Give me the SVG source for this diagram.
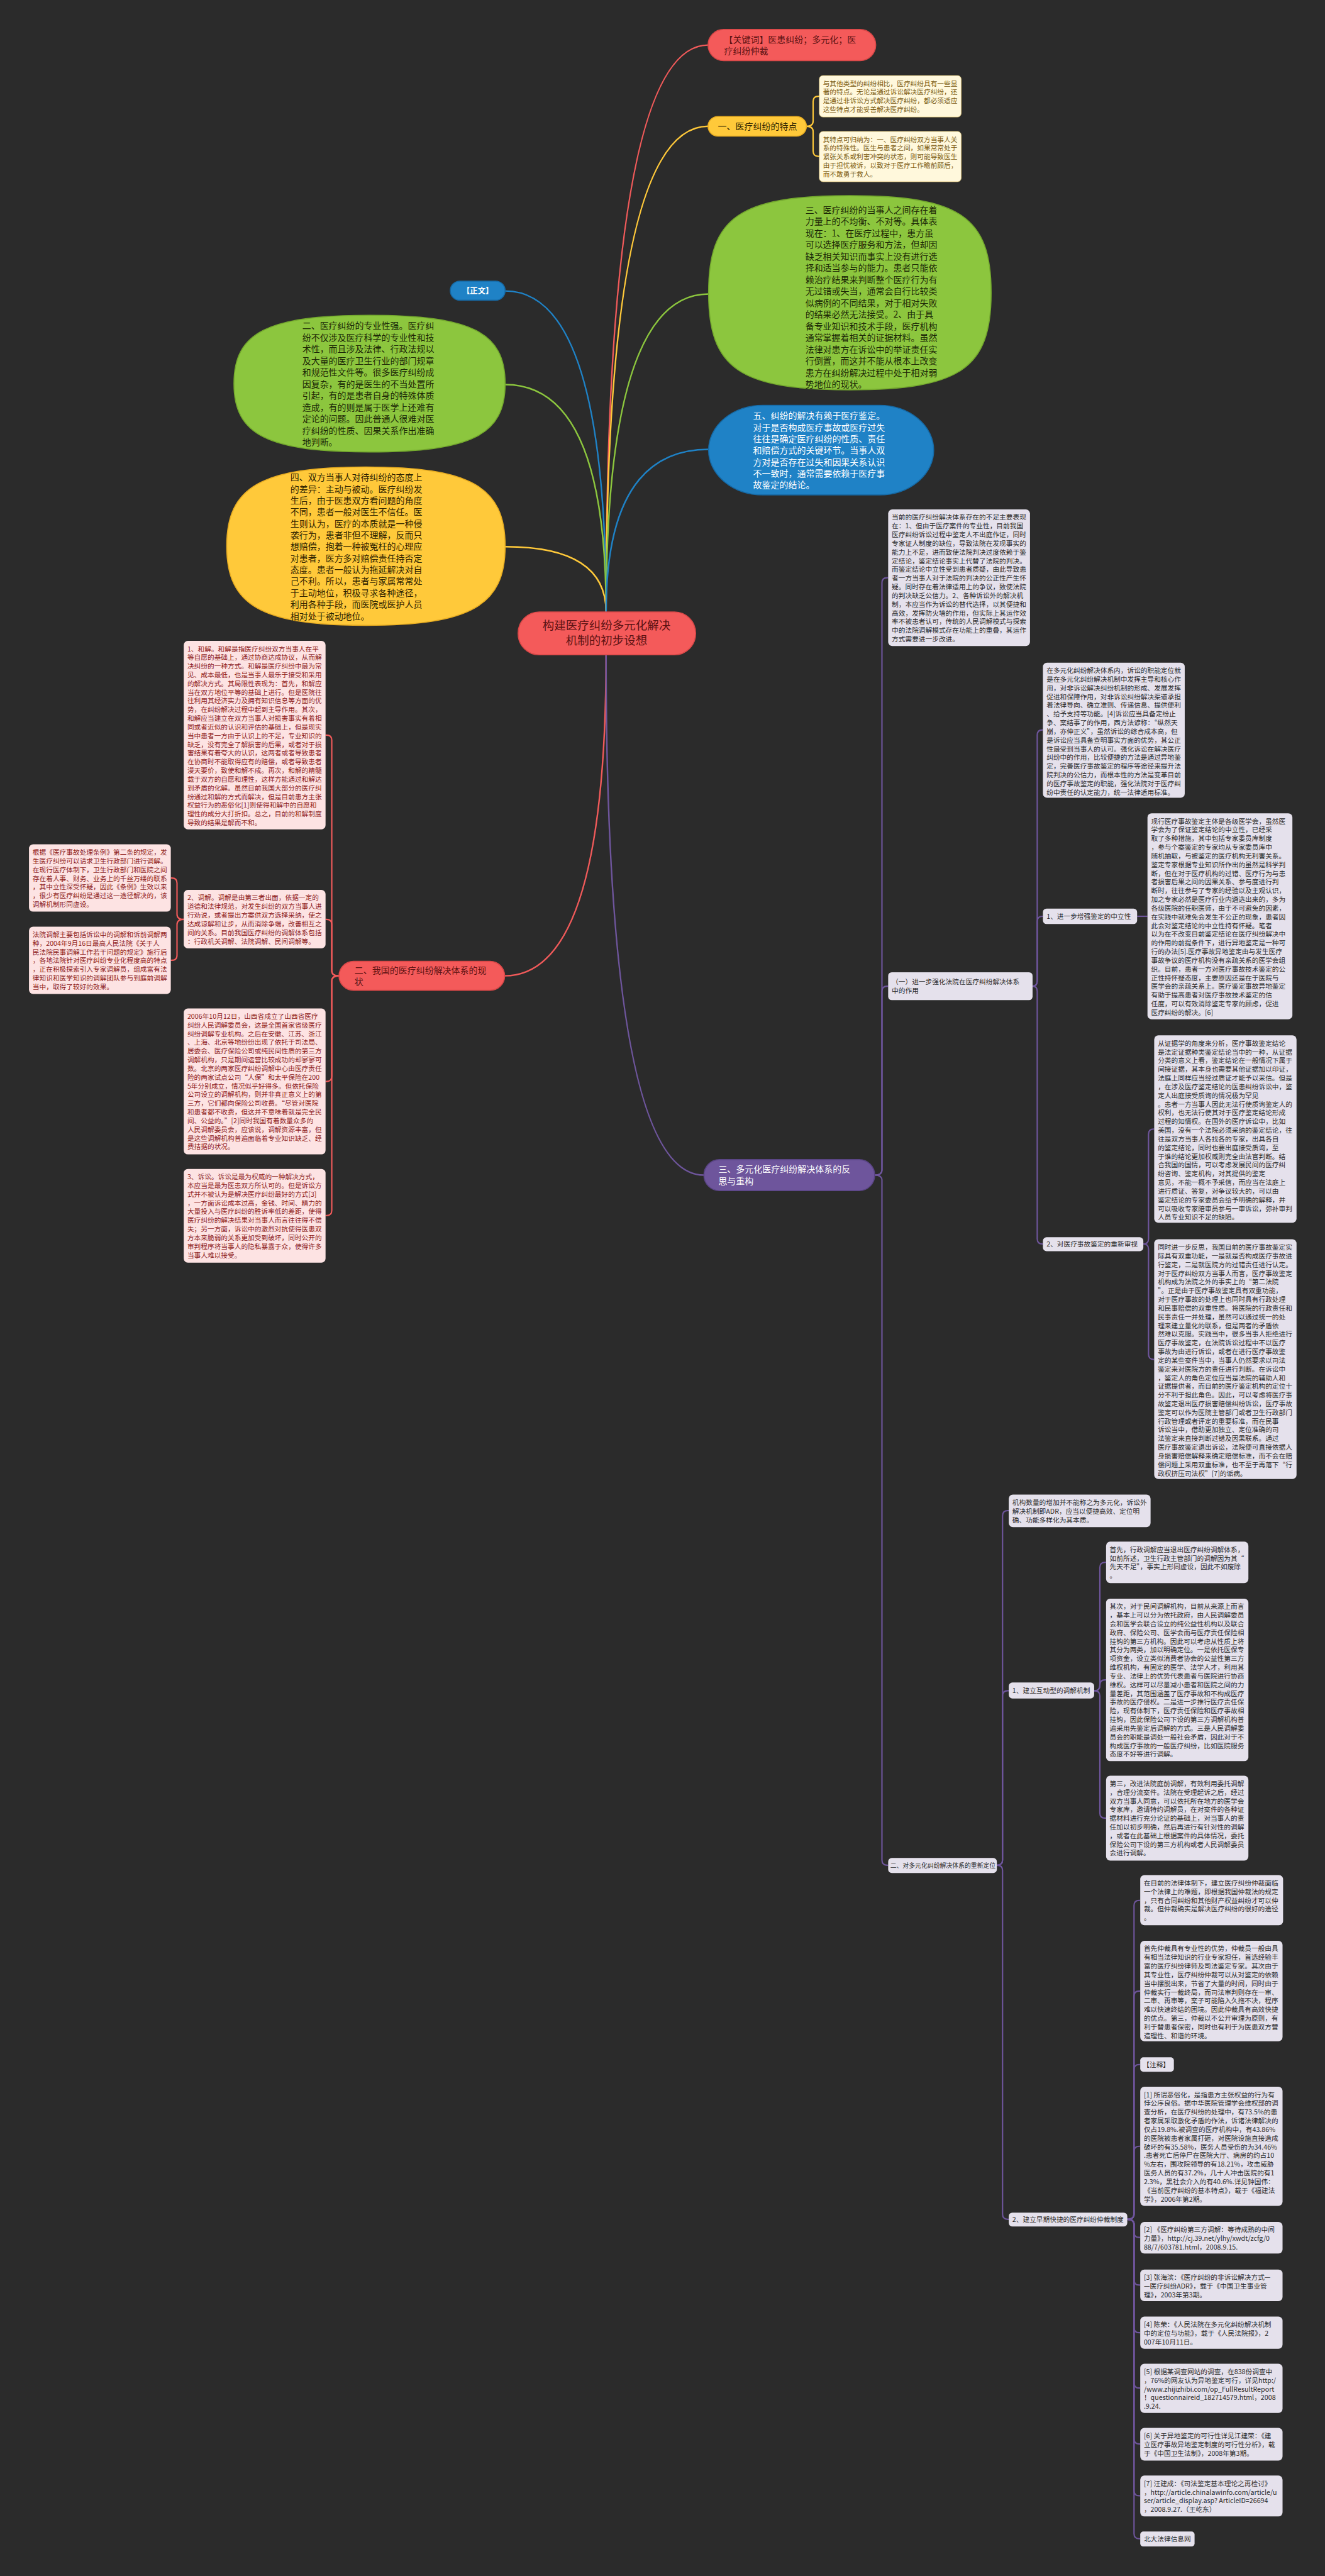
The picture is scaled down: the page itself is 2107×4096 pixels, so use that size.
<svg xmlns="http://www.w3.org/2000/svg" width="2107" height="4096" viewBox="0 0 2107 4096">
<style>
text{font-family:'Noto Sans CJK SC','Noto Sans',sans-serif}
.s13{font-size:13px}
.s12{font-size:12px}
.s17{font-size:17px}
.pk{fill:#fde3e3}
.pkt{fill:#8e1b1b}
.gy{fill:#e5e1ec}
.gyt{fill:#2b2b2b}
.cr{fill:#fff8dc;stroke:#f3d98a;stroke-width:1}
.crt{fill:#7b5a0f}
.ln{fill:none;stroke-width:3;stroke-linecap:round}
.br{fill:none;stroke-width:2.6;stroke-linejoin:round}
.cR{stroke:#f05a5a}.cY{stroke:#ffc93a}.cG{stroke:#8cc63e}.cB{stroke:#1f82c6}.cP{stroke:#6e559c}
</style>
<rect x="0" y="0" width="2107" height="4096" fill="#2b2b2b"/>
<g transform="scale(0.82305 0.82315)">
<g id="connectors">
<path class="ln cR" d="M1171,1182 Q1171,87 1368,87"/>
<path class="ln cY" d="M1171,1182 Q1171,244 1368,244"/>
<path class="ln cG" d="M1171,1182 Q1171,568 1369,568"/>
<path class="ln cB" d="M1171,1182 Q1171,562 976,562"/>
<path class="ln cG" d="M1171,1182 Q1171,743 976,743"/>
<path class="ln cY" d="M1171,1182 Q1171,1056 976,1056"/>
<path class="ln cB" d="M1171,1182 Q1171,868 1369,868"/>
<path class="ln cR" d="M1171,1265 Q1171,1885 975,1885"/>
<path class="ln cP" d="M1171,1265 Q1171,2270 1360,2270"/>
<path class="br cY" d="M1558,244 Q1571,244 1571,234 V196 Q1571,186 1581,186 H1583"/>
<path class="br cY" d="M1558,244 Q1571,244 1571,254 V292 Q1571,302 1581,302 H1583"/>
<path class="br cR" d="M655,1885 Q641,1885 641,1875 V1430 Q641,1420 631,1420 H629"/>
<path class="br cR" d="M655,1885 Q641,1885 641,1875 V1786 Q641,1776 631,1776 H629"/>
<path class="br cR" d="M655,1885 Q641,1885 641,1895 V2079 Q641,2089 631,2089 H629"/>
<path class="br cR" d="M655,1885 Q641,1885 641,1895 V2338 Q641,2348 631,2348 H629"/>
<path class="br cR" d="M355,1776 Q342,1776 342,1766 V1706 Q342,1696 332,1696 H330"/>
<path class="br cR" d="M355,1776 Q342,1776 342,1786 V1845 Q342,1855 332,1855 H330"/>
<path class="br cP" d="M1690,2270 Q1704,2270 1704,2260 V1126 Q1704,1116 1714,1116 H1716"/>
<path class="br cP" d="M1690,2270 Q1704,2270 1704,2260 V1915 Q1704,1905 1714,1905 H1716"/>
<path class="br cP" d="M1690,2270 Q1704,2270 1704,2280 V3593 Q1704,3603 1714,3603 H1716"/>
<path class="br cP" d="M1995,1905 Q2004,1905 2004,1895 V1420 Q2004,1410 2014,1410 H2015"/>
<path class="br cP" d="M1995,1905 Q2004,1905 2004,1895 V1780 Q2004,1770 2014,1770 H2015"/>
<path class="br cP" d="M1995,1905 Q2004,1905 2004,1915 V2393 Q2004,2403 2014,2403 H2015"/>
<path class="br cP" d="M2197,1770 H2217"/>
<path class="br cP" d="M2209,2403 Q2219,2403 2219,2393 V2191 Q2219,2181 2229,2181 H2230"/>
<path class="br cP" d="M2209,2403 Q2219,2403 2219,2413 V2616 Q2219,2626 2229,2626 H2230"/>
<path class="br cP" d="M1926,3603 Q1937,3603 1937,3593 V2928 Q1937,2918 1947,2918 H1949"/>
<path class="br cP" d="M1926,3603 Q1937,3603 1937,3593 V3276 Q1937,3266 1947,3266 H1949"/>
<path class="br cP" d="M1926,3603 Q1937,3603 1937,3613 V4277 Q1937,4287 1947,4287 H1949"/>
<path class="br cP" d="M2114,3266 Q2125,3266 2125,3256 V3028 Q2125,3018 2135,3018 H2137"/>
<path class="br cP" d="M2114,3266 Q2125,3266 2125,3256 V3255 Q2125,3245 2135,3245 H2137"/>
<path class="br cP" d="M2114,3266 Q2125,3266 2125,3276 V3502 Q2125,3512 2135,3512 H2137"/>
<path class="br cP" d="M2178,4287 Q2191,4287 2191,4277 V3681 Q2191,3671 2201,3671 H2203"/>
<path class="br cP" d="M2178,4287 Q2191,4287 2191,4277 V3856 Q2191,3846 2201,3846 H2203"/>
<path class="br cP" d="M2178,4287 Q2191,4287 2191,4277 V3998 Q2191,3988 2201,3988 H2203"/>
<path class="br cP" d="M2178,4287 Q2191,4287 2191,4277 V4156 Q2191,4146 2201,4146 H2203"/>
<path class="br cP" d="M2178,4287 Q2191,4287 2191,4297 V4312 Q2191,4322 2201,4322 H2203"/>
<path class="br cP" d="M2178,4287 Q2191,4287 2191,4297 V4404 Q2191,4414 2201,4414 H2203"/>
<path class="br cP" d="M2178,4287 Q2191,4287 2191,4297 V4496 Q2191,4506 2201,4506 H2203"/>
<path class="br cP" d="M2178,4287 Q2191,4287 2191,4297 V4603 Q2191,4613 2201,4613 H2203"/>
<path class="br cP" d="M2178,4287 Q2191,4287 2191,4297 V4711 Q2191,4721 2201,4721 H2203"/>
<path class="br cP" d="M2178,4287 Q2191,4287 2191,4297 V4811 Q2191,4821 2201,4821 H2203"/>
<path class="br cP" d="M2178,4287 Q2191,4287 2191,4297 V4894 Q2191,4904 2201,4904 H2203"/>
</g>

<g id="central">
<rect x="1001" y="1182" width="343" height="83" rx="41" fill="#f45a5a" stroke="#d94848" stroke-width="2"/>
<text x="1172" y="1216" font-size="22.5" fill="#5c1212" text-anchor="middle">构建医疗纠纷多元化解决</text>
<text x="1172" y="1245" font-size="22.5" fill="#5c1212" text-anchor="middle">机制的初步设想</text>
</g>

<g id="keywords">
<rect x="1368" y="57" width="324" height="60" rx="30" fill="#f45a5a" stroke="#d94848" stroke-width="2"/>
<text class="s17" fill="#5c1212"><tspan x="1399" y="83">【关键词】医患纠纷；多元化；医</tspan><tspan x="1399" y="104">疗纠纷仲裁</tspan></text>
</g>

<g id="n1">
<rect x="1368" y="225" width="190" height="38" rx="19" fill="#ffc93a" stroke="#e8ad22" stroke-width="2"/>
<text class="s17" x="1387" y="250" fill="#2e2300">一、医疗纠纷的特点</text>
</g>
<g id="n1a">
<rect class="cr" x="1583" y="146" width="274" height="80" rx="7"/>
<text class="s13 crt"><tspan x="1590" y="166">与其他类型的纠纷相比，医疗纠纷具有一些显</tspan><tspan x="1590" dy="16.7">著的特点。无论是通过诉讼解决医疗纠纷，还</tspan><tspan x="1590" dy="16.7">是通过非诉讼方式解决医疗纠纷，都必须适应</tspan><tspan x="1590" dy="16.7">这些特点才能妥善解决医疗纠纷。</tspan></text>
</g>
<g id="n1b">
<rect class="cr" x="1583" y="254" width="274" height="97" rx="7"/>
<text class="s13 crt"><tspan x="1590" y="274">其特点可归纳为：一、医疗纠纷双方当事人关</tspan><tspan x="1590" dy="16.7">系的特殊性。医生与患者之间，如果常常处于</tspan><tspan x="1590" dy="16.7">紧张关系或利害冲突的状态，则可能导致医生</tspan><tspan x="1590" dy="16.7">由于担忧被诉，以致对于医疗工作瞻前顾后，</tspan><tspan x="1590" dy="16.7">而不敢勇于救人。</tspan></text>
</g>

<g id="n3">
<path d="M1369,565.5 C1369,419.25 1429.1,378 1642,378 C1854.9,378 1915,419.25 1915,565.5 C1915,711.75 1854.9,753 1642,753 C1429.1,753 1369,711.75 1369,565.5 Z" fill="#8cc63e" stroke="#74a92e" stroke-width="2"/>
<text class="s17" fill="#1c2806"><tspan x="1556" y="411.5">三、医疗纠纷的当事人之间存在着</tspan><tspan x="1556" dy="22.47">力量上的不均衡、不对等。具体表</tspan><tspan x="1556" dy="22.47">现在：1、在医疗过程中，患方虽</tspan><tspan x="1556" dy="22.47">可以选择医疗服务和方法，但却因</tspan><tspan x="1556" dy="22.47">缺乏相关知识而事实上没有进行选</tspan><tspan x="1556" dy="22.47">择和适当参与的能力。患者只能依</tspan><tspan x="1556" dy="22.47">赖治疗结果来判断整个医疗行为有</tspan><tspan x="1556" dy="22.47">无过错或失当，通常会自行比较类</tspan><tspan x="1556" dy="22.47">似病例的不同结果，对于相对失败</tspan><tspan x="1556" dy="22.47">的结果必然无法接受。2、由于具</tspan><tspan x="1556" dy="22.47">备专业知识和技术手段，医疗机构</tspan><tspan x="1556" dy="22.47">通常掌握着相关的证据材料。虽然</tspan><tspan x="1556" dy="22.47">法律对患方在诉讼中的举证责任实</tspan><tspan x="1556" dy="22.47">行倒置，而这并不能从根本上改变</tspan><tspan x="1556" dy="22.47">患方在纠纷解决过程中处于相对弱</tspan><tspan x="1556" dy="22.47">势地位的现状。</tspan></text>
</g>

<g id="n5">
<rect x="1369" y="783" width="435" height="173" rx="105" ry="86.5" fill="#1f82c6" stroke="#166aa6" stroke-width="2"/>
<text class="s17" fill="#ffffff"><tspan x="1455" y="809.5">五、纠纷的解决有赖于医疗鉴定。</tspan><tspan x="1455" dy="22.3">对于是否构成医疗事故或医疗过失</tspan><tspan x="1455" dy="22.3">往往是确定医疗纠纷的性质、责任</tspan><tspan x="1455" dy="22.3">和赔偿方式的关键环节。当事人双</tspan><tspan x="1455" dy="22.3">方对是否存在过失和因果关系认识</tspan><tspan x="1455" dy="22.3">不一致时，通常需要依赖于医疗事</tspan><tspan x="1455" dy="22.3">故鉴定的结论。</tspan></text>
</g>

<g id="zhengwen">
<rect x="870" y="543" width="106" height="37" rx="18.5" fill="#1f82c6" stroke="#166aa6" stroke-width="2"/>
<text x="923" y="567" font-size="15" font-weight="bold" fill="#ffffff" text-anchor="middle">【正文】</text>
</g>

<g id="n2">
<path d="M452,741 C452,642 517.5,609 714,609 C910.5,609 976,642 976,741 C976,840 910.5,873 714,873 C517.5,873 452,840 452,741 Z" fill="#8cc63e" stroke="#74a92e" stroke-width="2"/>
<text class="s17" fill="#1c2806"><tspan x="584" y="635.5">二、医疗纠纷的专业性强。医疗纠</tspan><tspan x="584" dy="22.5">纷不仅涉及医疗科学的专业性和技</tspan><tspan x="584" dy="22.5">术性，而且涉及法律、行政法规以</tspan><tspan x="584" dy="22.5">及大量的医疗卫生行业的部门规章</tspan><tspan x="584" dy="22.5">和规范性文件等。很多医疗纠纷成</tspan><tspan x="584" dy="22.5">因复杂，有的是医生的不当处置所</tspan><tspan x="584" dy="22.5">引起，有的是患者自身的特殊体质</tspan><tspan x="584" dy="22.5">造成，有的则是属于医学上还难有</tspan><tspan x="584" dy="22.5">定论的问题。因此普通人很难对医</tspan><tspan x="584" dy="22.5">疗纠纷的性质、因果关系作出准确</tspan><tspan x="584" dy="22.5">地判断。</tspan></text>
</g>

<g id="n4">
<path d="M438,1055 C438,940.25 505.25,902 707,902 C908.75,902 976,940.25 976,1055 C976,1169.75 908.75,1208 707,1208 C505.25,1208 438,1169.75 438,1055 Z" fill="#ffc93a" stroke="#e8ad22" stroke-width="2"/>
<text class="s17" fill="#2e2300"><tspan x="561" y="928.5">四、双方当事人对待纠纷的态度上</tspan><tspan x="561" dy="22.3">的差异：主动与被动。医疗纠纷发</tspan><tspan x="561" dy="22.3">生后，由于医患双方看问题的角度</tspan><tspan x="561" dy="22.3">不同，患者一般对医生不信任。医</tspan><tspan x="561" dy="22.3">生则认为，医疗的本质就是一种侵</tspan><tspan x="561" dy="22.3">袭行为，患者非但不理解，反而只</tspan><tspan x="561" dy="22.3">想赔偿，抱着一种被冤枉的心理应</tspan><tspan x="561" dy="22.3">对患者，医方多对赔偿责任持否定</tspan><tspan x="561" dy="22.3">态度。患者一般认为拖延解决对自</tspan><tspan x="561" dy="22.3">己不利。所以，患者与家属常常处</tspan><tspan x="561" dy="22.3">于主动地位，积极寻求各种途径，</tspan><tspan x="561" dy="22.3">利用各种手段，而医院或医护人员</tspan><tspan x="561" dy="22.3">相对处于被动地位。</tspan></text>
</g>

<g id="s2">
<rect x="655" y="1857" width="320" height="56" rx="28" fill="#f45a5a" stroke="#d94848" stroke-width="2"/>
<text class="s17" fill="#5c1212"><tspan x="685" y="1880">二、我国的医疗纠纷解决体系的现</tspan><tspan x="685" y="1902">状</tspan></text>
</g>
<g id="s2a">
<rect class="pk" x="355" y="1238" width="274" height="364" rx="8"/>
<text class="s13 pkt"><tspan x="362" y="1258">1、和解。和解是指医疗纠纷双方当事人在平</tspan><tspan x="362" dy="16.8">等自愿的基础上，通过协商达成协议，从而解</tspan><tspan x="362" dy="16.8">决纠纷的一种方式。和解是医疗纠纷中最为常</tspan><tspan x="362" dy="16.8">见、成本最低，也是当事人最乐于接受和采用</tspan><tspan x="362" dy="16.8">的解决方式。其局限性表现为：首先，和解应</tspan><tspan x="362" dy="16.8">当在双方地位平等的基础上进行。但是医院往</tspan><tspan x="362" dy="16.8">往利用其经济实力及拥有知识信息等方面的优</tspan><tspan x="362" dy="16.8">势，在纠纷解决过程中起到主导作用。其次，</tspan><tspan x="362" dy="16.8">和解应当建立在双方当事人对损害事实有着相</tspan><tspan x="362" dy="16.8">同或者近似的认识和评估的基础上，但是现实</tspan><tspan x="362" dy="16.8">当中患者一方由于认识上的不足，专业知识的</tspan><tspan x="362" dy="16.8">缺乏，没有完全了解损害的后果，或者对于损</tspan><tspan x="362" dy="16.8">害结果有着夸大的认识，这两者或者导致患者</tspan><tspan x="362" dy="16.8">在协商时不能取得应有的赔偿，或者导致患者</tspan><tspan x="362" dy="16.8">漫天要价，致使和解不成。再次，和解的精髓</tspan><tspan x="362" dy="16.8">载于双方的自愿和理性，这样方能通过和解达</tspan><tspan x="362" dy="16.8">到矛盾的化解。虽然目前我国大部分的医疗纠</tspan><tspan x="362" dy="16.8">纷通过和解的方式而解决，但是目前患方主张</tspan><tspan x="362" dy="16.8">权益行为的恶俗化[1]则使得和解中的自愿和</tspan><tspan x="362" dy="16.8">理性的成分大打折扣。总之，目前的和解制度</tspan><tspan x="362" dy="16.8">导致的结果是解而不和。</tspan></text>
</g>
<g id="s2b">
<rect class="pk" x="355" y="1719" width="274" height="113" rx="8"/>
<text class="s13 pkt"><tspan x="362" y="1739">2、调解。调解是由第三者出面，依据一定的</tspan><tspan x="362" dy="16.8">道德和法律规范，对发生纠纷的双方当事人进</tspan><tspan x="362" dy="16.8">行劝说，或者提出方案供双方选择采纳，使之</tspan><tspan x="362" dy="16.8">达成谅解和让步，从而消除争端，改善相互之</tspan><tspan x="362" dy="16.8">间的关系。目前我国医疗纠纷的调解体系包括</tspan><tspan x="362" dy="16.8">：行政机关调解、法院调解、民间调解等。</tspan></text>
</g>
<g id="s2b1">
<rect class="pk" x="56" y="1631" width="274" height="130" rx="8"/>
<text class="s13 pkt"><tspan x="63" y="1651">根据《医疗事故处理条例》第二条的规定，发</tspan><tspan x="63" dy="16.8">生医疗纠纷可以请求卫生行政部门进行调解。</tspan><tspan x="63" dy="16.8">在现行医疗体制下，卫生行政部门和医院之间</tspan><tspan x="63" dy="16.8">存在着人事、财务、业务上的千丝万缕的联系</tspan><tspan x="63" dy="16.8">，其中立性深受怀疑，因此《条例》生效以来</tspan><tspan x="63" dy="16.8">，很少有医疗纠纷是通过这一途径解决的，该</tspan><tspan x="63" dy="16.8">调解机制形同虚设。</tspan></text>
</g>
<g id="s2b2">
<rect class="pk" x="56" y="1790" width="274" height="130" rx="8"/>
<text class="s13 pkt"><tspan x="63" y="1810">法院调解主要包括诉讼中的调解和诉前调解两</tspan><tspan x="63" dy="16.8">种，2004年9月16日最高人民法院《关于人</tspan><tspan x="63" dy="16.8">民法院民事调解工作若干问题的规定》施行后</tspan><tspan x="63" dy="16.8">，各地法院针对医疗纠纷专业化程度高的特点</tspan><tspan x="63" dy="16.8">，正在积极探索引入专家调解员，组成富有法</tspan><tspan x="63" dy="16.8">律知识和医学知识的调解团队参与到庭前调解</tspan><tspan x="63" dy="16.8">当中，取得了较好的效果。</tspan></text>
</g>
<g id="s2c">
<rect class="pk" x="355" y="1948" width="274" height="282" rx="8"/>
<text class="s13 pkt"><tspan x="362" y="1968">2006年10月12日，山西省成立了山西省医疗</tspan><tspan x="362" dy="16.8">纠纷人民调解委员会，这是全国首家省级医疗</tspan><tspan x="362" dy="16.8">纠纷调解专业机构。之后在安徽、江苏、浙江</tspan><tspan x="362" dy="16.8">、上海、北京等地纷纷出现了依托于司法局、</tspan><tspan x="362" dy="16.8">居委会、医疗保险公司或纯民间性质的第三方</tspan><tspan x="362" dy="16.8">调解机构，只是期间运营比较成功的却寥寥可</tspan><tspan x="362" dy="16.8">数。北京的两家医疗纠纷调解中心由医疗责任</tspan><tspan x="362" dy="16.8">险的两家试点公司“人保”和太平保险在200</tspan><tspan x="362" dy="16.8">5年分别成立，情况似乎好得多。但依托保险</tspan><tspan x="362" dy="16.8">公司设立的调解机构，则并非真正意义上的第</tspan><tspan x="362" dy="16.8">三方，它们都向保险公司收费。“尽管对医院</tspan><tspan x="362" dy="16.8">和患者都不收费，但这并不意味着就是完全民</tspan><tspan x="362" dy="16.8">间、公益的。”[2]同时我国有着数量众多的</tspan><tspan x="362" dy="16.8">人民调解委员会，应该说，调解资源丰富，但</tspan><tspan x="362" dy="16.8">是这些调解机构普遍面临着专业知识缺乏、经</tspan><tspan x="362" dy="16.8">费拮据的状况。</tspan></text>
</g>
<g id="s2d">
<rect class="pk" x="355" y="2258" width="274" height="181" rx="8"/>
<text class="s13 pkt"><tspan x="362" y="2278">3、诉讼。诉讼是最为权威的一种解决方式，</tspan><tspan x="362" dy="16.8">本应当是最为医患双方所认可的。但是诉讼方</tspan><tspan x="362" dy="16.8">式并不被认为是解决医疗纠纷最好的方式[3]</tspan><tspan x="362" dy="16.8">，一方面诉讼成本过高，金钱、时间、精力的</tspan><tspan x="362" dy="16.8">大量投入与医疗纠纷的胜诉率低的差距，使得</tspan><tspan x="362" dy="16.8">医疗纠纷的解决结果对当事人而言往往得不偿</tspan><tspan x="362" dy="16.8">失；另一方面，诉讼中的激烈对抗使得医患双</tspan><tspan x="362" dy="16.8">方本来脆弱的关系更加受到破坏，同时公开的</tspan><tspan x="362" dy="16.8">审判程序将当事人的隐私暴露于众，使得许多</tspan><tspan x="362" dy="16.8">当事人难以接受。</tspan></text>
</g>

<g id="s3">
<rect x="1360" y="2240" width="330" height="60" rx="30" fill="#6e559c" stroke="#5a4585" stroke-width="2"/>
<text class="s17" fill="#ffffff"><tspan x="1388" y="2265">三、多元化医疗纠纷解决体系的反</tspan><tspan x="1388" y="2287">思与重构</tspan></text>
</g>
<g id="s3a">
<rect class="gy" x="1716" y="984" width="274" height="264" rx="8"/>
<text class="s13 gyt"><tspan x="1723" y="1004">当前的医疗纠纷解决体系存在的不足主要表现</tspan><tspan x="1723" dy="16.8">在：1、但由于医疗案件的专业性，目前我国</tspan><tspan x="1723" dy="16.8">医疗纠纷诉讼过程中鉴定人不出庭作证，同时</tspan><tspan x="1723" dy="16.8">专家证人制度的缺位，导致法院在发现事实的</tspan><tspan x="1723" dy="16.8">能力上不足，进而致使法院判决过度依赖于鉴</tspan><tspan x="1723" dy="16.8">定结论，鉴定结论事实上代替了法院的判决。</tspan><tspan x="1723" dy="16.8">而鉴定结论中立性受到患者质疑，由此导致患</tspan><tspan x="1723" dy="16.8">者一方当事人对于法院的判决的公正性产生怀</tspan><tspan x="1723" dy="16.8">疑。同时存在着法律适用上的争议，致使法院</tspan><tspan x="1723" dy="16.8">的判决缺乏公信力。2、各种诉讼外的解决机</tspan><tspan x="1723" dy="16.8">制，本应当作为诉讼的替代选择，以其便捷和</tspan><tspan x="1723" dy="16.8">高效，发挥防火墙的作用，但实际上其运作效</tspan><tspan x="1723" dy="16.8">率不被患者认可，传统的人民调解模式与探索</tspan><tspan x="1723" dy="16.8">中的法院调解模式存在功能上的重叠，其运作</tspan><tspan x="1723" dy="16.8">方式需要进一步改进。</tspan></text>
</g>
<g id="s3b">
<rect class="gy" x="1716" y="1878" width="279" height="54" rx="7"/>
<text class="s13 gyt"><tspan x="1723" y="1901">（一）进一步强化法院在医疗纠纷解决体系</tspan><tspan x="1723" dy="16.8">中的作用</tspan></text>
</g>
<g id="s3b1">
<rect class="gy" x="2015" y="1280" width="274" height="261" rx="8"/>
<text class="s13 gyt"><tspan x="2022" y="1300">在多元化纠纷解决体系内，诉讼的职能定位就</tspan><tspan x="2022" dy="16.8">是在多元化纠纷解决机制中发挥主导和核心作</tspan><tspan x="2022" dy="16.8">用，对非诉讼解决纠纷机制的形成、发展发挥</tspan><tspan x="2022" dy="16.8">促进和保障作用，对非诉讼纠纷解决渠道承担</tspan><tspan x="2022" dy="16.8">着法律导向、确立准则、传递信息、提供便利</tspan><tspan x="2022" dy="16.8">、给予支持等功能。[4]诉讼应当具备定纷止</tspan><tspan x="2022" dy="16.8">争、案结事了的作用，西方法谚称：“纵然天</tspan><tspan x="2022" dy="16.8">崩，亦伸正义”，虽然诉讼的综合成本高，但</tspan><tspan x="2022" dy="16.8">是诉讼应当具备查明事实方面的优势，其公正</tspan><tspan x="2022" dy="16.8">性最受到当事人的认可。强化诉讼在解决医疗</tspan><tspan x="2022" dy="16.8">纠纷中的作用，比较便捷的方法是通过异地鉴</tspan><tspan x="2022" dy="16.8">定，完善医疗事故鉴定的程序等途径来提升法</tspan><tspan x="2022" dy="16.8">院判决的公信力，而根本性的方法是变革目前</tspan><tspan x="2022" dy="16.8">的医疗事故鉴定的职能，强化法院对于医疗纠</tspan><tspan x="2022" dy="16.8">纷中责任的认定能力，统一法律适用标准。</tspan></text>
</g>
<g id="s3b2">
<rect class="gy" x="2015" y="1755" width="182" height="30" rx="7"/>
<text class="s13 gyt" x="2022" y="1775">1、进一步增强鉴定的中立性</text>
</g>
<g id="s3b2a">
<rect class="gy" x="2217" y="1571" width="280" height="398" rx="8"/>
<text class="s13 gyt"><tspan x="2224" y="1591">现行医疗事故鉴定主体是各级医学会，虽然医</tspan><tspan x="2224" dy="16.8">学会为了保证鉴定结论的中立性，已经采</tspan><tspan x="2224" dy="16.8">取了多种措施，其中包括专家委员库制度</tspan><tspan x="2224" dy="16.8">，参与个案鉴定的专家均从专家委员库中</tspan><tspan x="2224" dy="16.8">随机抽取，与被鉴定的医疗机构无利害关系。</tspan><tspan x="2224" dy="16.8">鉴定专家根据专业知识所作出的虽然是科学判</tspan><tspan x="2224" dy="16.8">断，但在对于医疗机构的过错、医疗行为与患</tspan><tspan x="2224" dy="16.8">者损害后果之间的因果关系、参与度进行判</tspan><tspan x="2224" dy="16.8">断时，往往参与了专家的经验以及主观认识，</tspan><tspan x="2224" dy="16.8">加之专家必然是医疗行业内遴选出来的，多为</tspan><tspan x="2224" dy="16.8">各级医院的任职医师，由于不可避免的因素，</tspan><tspan x="2224" dy="16.8">在实践中就难免会发生不公正的现象，患者因</tspan><tspan x="2224" dy="16.8">此会对鉴定结论的中立性持有怀疑。笔者</tspan><tspan x="2224" dy="16.8">以为在不改变目前鉴定结论在医疗纠纷解决中</tspan><tspan x="2224" dy="16.8">的作用的前提条件下，进行异地鉴定是一种可</tspan><tspan x="2224" dy="16.8">行的办法[5].医疗事故异地鉴定由与发生医疗</tspan><tspan x="2224" dy="16.8">事故争议的医疗机构没有亲疏关系的医学会组</tspan><tspan x="2224" dy="16.8">织。目前，患者一方对医疗事故技术鉴定的公</tspan><tspan x="2224" dy="16.8">正性持怀疑态度，主要原因还是在于医院与</tspan><tspan x="2224" dy="16.8">医学会的亲疏关系上。医疗鉴定事故异地鉴定</tspan><tspan x="2224" dy="16.8">有助于提高患者对医疗事故技术鉴定的信</tspan><tspan x="2224" dy="16.8">任度，可以有效消除鉴定专家的顾虑，促进</tspan><tspan x="2224" dy="16.8">医疗纠纷的解决。[6]</tspan></text>
</g>
<g id="s3b3">
<rect class="gy" x="2015" y="2390" width="194" height="27" rx="7"/>
<text class="s13 gyt" x="2022" y="2408">2、对医疗事故鉴定的重新审视</text>
</g>
<g id="s3b3a">
<rect class="gy" x="2230" y="2000" width="275" height="362" rx="8"/>
<text class="s13 gyt"><tspan x="2237" y="2020">从证据学的角度来分析，医疗事故鉴定结论</tspan><tspan x="2237" dy="16.8">是法定证据种类鉴定结论当中的一种，从证据</tspan><tspan x="2237" dy="16.8">分类的意义上看，鉴定结论在一般情况下属于</tspan><tspan x="2237" dy="16.8">间接证据，其本身也需要其他证据加以印证，</tspan><tspan x="2237" dy="16.8">法庭上同样应当经过质证才能予以采信。但是</tspan><tspan x="2237" dy="16.8">，在涉及医疗鉴定结论的医患纠纷诉讼中，鉴</tspan><tspan x="2237" dy="16.8">定人出庭接受质询的情况极为罕见</tspan><tspan x="2237" dy="16.8">。患者一方当事人因此无法行使质询鉴定人的</tspan><tspan x="2237" dy="16.8">权利，也无法行使其对于医疗鉴定结论形成</tspan><tspan x="2237" dy="16.8">过程的知情权。在国外的医疗诉讼中，比如</tspan><tspan x="2237" dy="16.8">美国，没有一个法院必须采纳的鉴定结论，往</tspan><tspan x="2237" dy="16.8">往是双方当事人各找各的专家，出具各自</tspan><tspan x="2237" dy="16.8">的鉴定结论，同时也要出庭接受质询，至</tspan><tspan x="2237" dy="16.8">于谁的结论更加权威则完全由法官判断。结</tspan><tspan x="2237" dy="16.8">合我国的国情，可以考虑发展民间的医疗纠</tspan><tspan x="2237" dy="16.8">纷咨询、鉴定机构，对其提供的鉴定</tspan><tspan x="2237" dy="16.8">意见，不能一概不予采信，而应当在法庭上</tspan><tspan x="2237" dy="16.8">进行质证、答复，对争议较大的，可以由</tspan><tspan x="2237" dy="16.8">鉴定结论的专家委员会给予明确的解释，并</tspan><tspan x="2237" dy="16.8">可以吸收专家陪审员参与一审诉讼，弥补审判</tspan><tspan x="2237" dy="16.8">人员专业知识不足的缺陷。</tspan></text>
</g>
<g id="s3b3b">
<rect class="gy" x="2230" y="2394" width="275" height="463" rx="8"/>
<text class="s13 gyt"><tspan x="2237" y="2414">同时进一步反思，我国目前的医疗事故鉴定实</tspan><tspan x="2237" dy="16.8">际具有双重功能，一是就是否构成医疗事故进</tspan><tspan x="2237" dy="16.8">行鉴定，二是就医院方的过错责任进行认定。</tspan><tspan x="2237" dy="16.8">对于医疗纠纷双方当事人而言，医疗事故鉴定</tspan><tspan x="2237" dy="16.8">机构成为法院之外的事实上的“第二法院</tspan><tspan x="2237" dy="16.8">”。正是由于医疗事故鉴定具有双重功能，</tspan><tspan x="2237" dy="16.8">对于医疗事故的处理上也同时具有行政处理</tspan><tspan x="2237" dy="16.8">和民事赔偿的双重性质。将医院的行政责任和</tspan><tspan x="2237" dy="16.8">民事责任一并处理，虽然可以通过统一的处</tspan><tspan x="2237" dy="16.8">理来建立量化的联系，但是两者的矛盾依</tspan><tspan x="2237" dy="16.8">然难以克服。实践当中，很多当事人拒绝进行</tspan><tspan x="2237" dy="16.8">医疗事故鉴定，在法院诉讼过程中不以医疗</tspan><tspan x="2237" dy="16.8">事故为由进行诉讼，或者在进行医疗事故鉴</tspan><tspan x="2237" dy="16.8">定的某些案件当中，当事人仍然要求以司法</tspan><tspan x="2237" dy="16.8">鉴定来对医院方的责任进行判断。在诉讼中</tspan><tspan x="2237" dy="16.8">，鉴定人的角色定位应当是法院的辅助人和</tspan><tspan x="2237" dy="16.8">证据提供者，而目前的医疗鉴定机构的定位十</tspan><tspan x="2237" dy="16.8">分不利于担此角色。因此，可以考虑将医疗事</tspan><tspan x="2237" dy="16.8">故鉴定退出医疗损害赔偿纠纷诉讼，医疗事故</tspan><tspan x="2237" dy="16.8">鉴定可以作为医院主管部门或者卫生行政部门</tspan><tspan x="2237" dy="16.8">行政管理或者评定的重要标准，而在民事</tspan><tspan x="2237" dy="16.8">诉讼当中，借助更加独立、定位准确的司</tspan><tspan x="2237" dy="16.8">法鉴定来直接判断过错及因果联系。通过</tspan><tspan x="2237" dy="16.8">医疗事故鉴定退出诉讼，法院便可直接依据人</tspan><tspan x="2237" dy="16.8">身损害赔偿解释来确定赔偿标准，而不会在赔</tspan><tspan x="2237" dy="16.8">偿问题上采用双重标准，也不至于再落下“行</tspan><tspan x="2237" dy="16.8">政权挤压司法权”[7]的诟病。</tspan></text>
</g>
<g id="s3c">
<rect class="gy" x="1716" y="3589" width="210" height="29" rx="7"/>
<text class="s12 gyt" x="1720" y="3608">二、对多元化纠纷解决体系的重新定位</text>
</g>
<g id="s3c1">
<rect class="gy" x="1949" y="2887" width="274" height="63" rx="8"/>
<text class="s13 gyt"><tspan x="1956" y="2907">机构数量的增加并不能称之为多元化，诉讼外</tspan><tspan x="1956" dy="16.8">解决机制即ADR，应当以便捷高效、定位明</tspan><tspan x="1956" dy="16.8">确、功能多样化为其本质。</tspan></text>
</g>
<g id="s3c2">
<rect class="gy" x="1949" y="3250" width="165" height="31" rx="7"/>
<text class="s13 gyt" x="1956" y="3270">1、建立互动型的调解机制</text>
</g>
<g id="s3c2a">
<rect class="gy" x="2137" y="2978" width="275" height="80" rx="8"/>
<text class="s13 gyt"><tspan x="2144" y="2998">首先，行政调解应当退出医疗纠纷调解体系，</tspan><tspan x="2144" dy="16.8">如前所述，卫生行政主管部门的调解因为其“</tspan><tspan x="2144" dy="16.8">先天不足”，事实上形同虚设，因此不如废除</tspan><tspan x="2144" dy="16.8">。</tspan></text>
</g>
<g id="s3c2b">
<rect class="gy" x="2137" y="3088" width="275" height="314" rx="8"/>
<text class="s13 gyt"><tspan x="2144" y="3108">其次，对于民间调解机构，目前从来源上而言</tspan><tspan x="2144" dy="16.8">，基本上可以分为依托政府，由人民调解委员</tspan><tspan x="2144" dy="16.8">会和医学会联合设立的纯公益性机构以及联合</tspan><tspan x="2144" dy="16.8">政府、保险公司、医学会而与医疗责任保险相</tspan><tspan x="2144" dy="16.8">挂钩的第三方机构。因此可以考虑从性质上将</tspan><tspan x="2144" dy="16.8">其分为两类，加以明确定位。一是依托医保专</tspan><tspan x="2144" dy="16.8">项资金，设立类似消费者协会的公益性第三方</tspan><tspan x="2144" dy="16.8">维权机构，有固定的医学、法学人才，利用其</tspan><tspan x="2144" dy="16.8">专业、法律上的优势代表患者与医院进行协商</tspan><tspan x="2144" dy="16.8">维权。这样可以尽量减小患者和医院之间的力</tspan><tspan x="2144" dy="16.8">量差距，其范围涵盖了医疗事故和不构成医疗</tspan><tspan x="2144" dy="16.8">事故的医疗侵权。二是进一步推行医疗责任保</tspan><tspan x="2144" dy="16.8">险，现有体制下，医疗责任保险和医疗事故相</tspan><tspan x="2144" dy="16.8">挂钩，因此保险公司下设的第三方调解机构普</tspan><tspan x="2144" dy="16.8">遍采用先鉴定后调解的方式。三是人民调解委</tspan><tspan x="2144" dy="16.8">员会的职能是调处一般社会矛盾，因此对于不</tspan><tspan x="2144" dy="16.8">构成医疗事故的一般医疗纠纷，比如医院服务</tspan><tspan x="2144" dy="16.8">态度不好等进行调解。</tspan></text>
</g>
<g id="s3c2c">
<rect class="gy" x="2137" y="3430" width="275" height="164" rx="8"/>
<text class="s13 gyt"><tspan x="2144" y="3450">第三，改进法院庭前调解，有效利用委托调解</tspan><tspan x="2144" dy="16.8">，合理分流案件。法院在受理起诉之后，经过</tspan><tspan x="2144" dy="16.8">双方当事人同意，可以依托所在地方的医学会</tspan><tspan x="2144" dy="16.8">专家库，邀请特约调解员，在对案件的各种证</tspan><tspan x="2144" dy="16.8">据材料进行充分论证的基础上，对当事人的责</tspan><tspan x="2144" dy="16.8">任加以初步明确，然后再进行有针对性的调解</tspan><tspan x="2144" dy="16.8">，或者在此基础上根据案件的具体情况，委托</tspan><tspan x="2144" dy="16.8">保险公司下设的第三方机构或者人民调解委员</tspan><tspan x="2144" dy="16.8">会进行调解。</tspan></text>
</g>
<g id="s3c3">
<rect class="gy" x="1949" y="4274" width="229" height="27" rx="7"/>
<text class="s13 gyt" x="1956" y="4292">2、建立早期快捷的医疗纠纷仲裁制度</text>
</g>
<g id="s3c3a">
<rect class="gy" x="2203" y="3622" width="276" height="97" rx="8"/>
<text class="s13 gyt"><tspan x="2210" y="3642">在目前的法律体制下，建立医疗纠纷仲裁面临</tspan><tspan x="2210" dy="16.8">一个法律上的难题，即根据我国仲裁法的规定</tspan><tspan x="2210" dy="16.8">，只有合同纠纷和其他财产权益纠纷才可以仲</tspan><tspan x="2210" dy="16.8">裁。但仲裁确实是解决医疗纠纷的很好的途径</tspan><tspan x="2210" dy="16.8">。</tspan></text>
</g>
<g id="s3c3b">
<rect class="gy" x="2203" y="3749" width="275" height="194" rx="8"/>
<text class="s13 gyt"><tspan x="2210" y="3769">首先仲裁具有专业性的优势，仲裁员一般由具</tspan><tspan x="2210" dy="16.8">有相当法律知识的行业专家担任，首选经验丰</tspan><tspan x="2210" dy="16.8">富的医疗纠纷律师及司法鉴定专家。其次由于</tspan><tspan x="2210" dy="16.8">其专业性，医疗纠纷仲裁可以从对鉴定的依赖</tspan><tspan x="2210" dy="16.8">当中摆脱出来，节省了大量的时间，同时由于</tspan><tspan x="2210" dy="16.8">仲裁实行一裁终局，而司法审判则存在一审、</tspan><tspan x="2210" dy="16.8">二审、再审等，案子可能陷入久拖不决，程序</tspan><tspan x="2210" dy="16.8">难以快速终结的困境。因此仲裁具有高效快捷</tspan><tspan x="2210" dy="16.8">的优点。第三，仲裁以不公开审理为原则，有</tspan><tspan x="2210" dy="16.8">利于替患者保密，同时也有利于为医患双方营</tspan><tspan x="2210" dy="16.8">造理性、和谐的环境。</tspan></text>
</g>
<g id="notes">
<rect class="gy" x="2203" y="3974" width="65" height="28" rx="6"/>
<text class="s13 gyt" x="2208" y="3993">【注释】</text>
</g>
<g id="ref1">
<rect class="gy" x="2203" y="4031" width="275" height="230" rx="8"/>
<text class="s13 gyt"><tspan x="2210" y="4051">[1] 所谓恶俗化，是指患方主张权益的行为有</tspan><tspan x="2210" dy="16.8">悖公序良俗。据中华医院管理学会维权部的调</tspan><tspan x="2210" dy="16.8">查分析，在医疗纠纷的处理中，有73.5%的患</tspan><tspan x="2210" dy="16.8">者家属采取激化矛盾的作法，诉诸法律解决的</tspan><tspan x="2210" dy="16.8">仅占19.8%.被调查的医疗机构中，有43.86%</tspan><tspan x="2210" dy="16.8">的医院被患者家属打砸，对医院设施直接造成</tspan><tspan x="2210" dy="16.8">破坏的有35.58%，医务人员受伤的为34.46%</tspan><tspan x="2210" dy="16.8">.患者死亡后停尸在医院大厅、病房的约占10</tspan><tspan x="2210" dy="16.8">%左右，围攻院领导的有18.21%，攻击威胁</tspan><tspan x="2210" dy="16.8">医务人员的有37.2%，几十人冲击医院的有1</tspan><tspan x="2210" dy="16.8">2.3%，黑社会介入的有40.6%.详见钟国伟：</tspan><tspan x="2210" dy="16.8">《当前医疗纠纷的基本特点》，载于《福建法</tspan><tspan x="2210" dy="16.8">学》，2006年第2期。</tspan></text>
</g>
<g id="ref2">
<rect class="gy" x="2203" y="4292" width="275" height="61" rx="8"/>
<text class="s13 gyt"><tspan x="2210" y="4312">[2] 《医疗纠纷第三方调解：等待成熟的中间</tspan><tspan x="2210" dy="16.8">力量》，http://cj.39.net/ylhy/xwdt/zcfg/0</tspan><tspan x="2210" dy="16.8">88/7/603781.html，2008.9.15.</tspan></text>
</g>
<g id="ref3">
<rect class="gy" x="2203" y="4384" width="275" height="61" rx="8"/>
<text class="s13 gyt"><tspan x="2210" y="4404">[3] 张海滨：《医疗纠纷的非诉讼解决方式—</tspan><tspan x="2210" dy="16.8">—医疗纠纷ADR》，载于《中国卫生事业管</tspan><tspan x="2210" dy="16.8">理》，2003年第3期。</tspan></text>
</g>
<g id="ref4">
<rect class="gy" x="2203" y="4475" width="275" height="62" rx="8"/>
<text class="s13 gyt"><tspan x="2210" y="4495">[4] 陈荣：《人民法院在多元化纠纷解决机制</tspan><tspan x="2210" dy="16.8">中的定位与功能》，载于《人民法院报》，2</tspan><tspan x="2210" dy="16.8">007年10月11日。</tspan></text>
</g>
<g id="ref5">
<rect class="gy" x="2203" y="4566" width="275" height="95" rx="8"/>
<text class="s13 gyt"><tspan x="2210" y="4586">[5] 根据某调查网站的调查，在838份调查中</tspan><tspan x="2210" dy="16.8">，76%的网友认为异地鉴定可行，详见http:/</tspan><tspan x="2210" dy="16.8">/www.zhijizhibi.com/op_FullResultReport</tspan><tspan x="2210" dy="16.8">！questionnaireid_182714579.html，2008</tspan><tspan x="2210" dy="16.8">.9.24.</tspan></text>
</g>
<g id="ref6">
<rect class="gy" x="2203" y="4690" width="275" height="63" rx="8"/>
<text class="s13 gyt"><tspan x="2210" y="4710">[6] 关于异地鉴定的可行性详见江建荣：《建</tspan><tspan x="2210" dy="16.8">立医疗事故异地鉴定制度的可行性分析》，载</tspan><tspan x="2210" dy="16.8">于《中国卫生法制》，2008年第3期。</tspan></text>
</g>
<g id="ref7">
<rect class="gy" x="2203" y="4782" width="275" height="79" rx="8"/>
<text class="s13 gyt"><tspan x="2210" y="4802">[7] 汪建成：《司法鉴定基本理论之再检讨》</tspan><tspan x="2210" dy="16.8">，http://article.chinalawinfo.com/article/u</tspan><tspan x="2210" dy="16.8">ser/article_display.asp? ArticleID=26694</tspan><tspan x="2210" dy="16.8">，2008.9.27.（王屹东）</tspan></text>
</g>
<g id="source">
<rect class="gy" x="2203" y="4890" width="105" height="29" rx="6"/>
<text class="s13 gyt" x="2210" y="4909">北大法律信息网</text>
</g>
</g>
</svg>
